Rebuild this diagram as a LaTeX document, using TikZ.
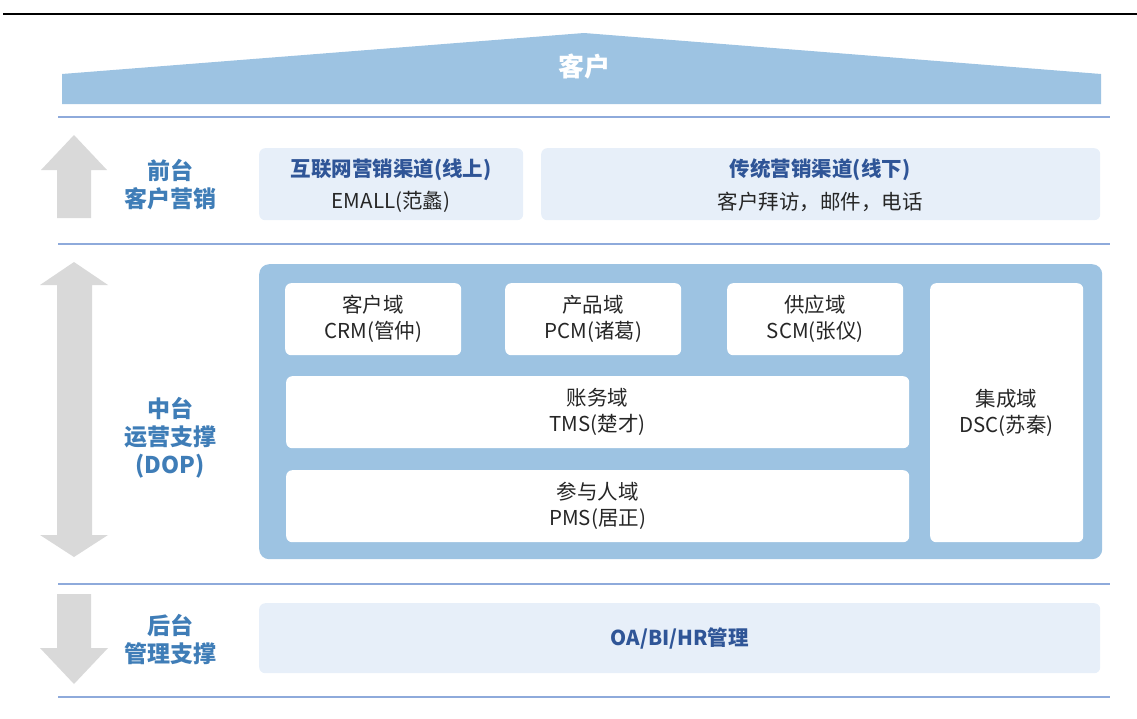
\documentclass[tikz,border=0pt]{standalone}
\usepackage{fontspec}
\setmainfont{Noto Sans CJK SC}
\definecolor{roofblue}{HTML}{9DC3E2}
\definecolor{lineblue}{HTML}{8EAADB}
\definecolor{arrowgray}{HTML}{D9D9D9}
\definecolor{labelblue}{HTML}{3F7DB7}
\definecolor{titleblue}{HTML}{2F5597}
\definecolor{panelfill}{HTML}{E7EFF9}
\definecolor{bodytext}{HTML}{262626}
\tikzset{
  sepline/.style={draw=lineblue, line width=1.5pt},
  grayarrow/.style={fill=arrowgray, draw=none},
  panel/.style={fill=panelfill, draw=none, rounded corners=6pt, inner sep=0pt, anchor=north west},
  whitebox/.style={fill=white, draw=none, rounded corners=6pt, inner sep=0pt, anchor=north west},
  bodyfont/.style={font=\fontsize{20.5}{26}\selectfont, text=bodytext, align=center},
  titlefont/.style={font=\fontsize{20.5}{26}\selectfont\bfseries, text=titleblue, align=center},
  sidelabel/.style={font=\fontsize{23}{28}\selectfont\bfseries, text=labelblue, align=center},
}
\begin{document}
\begin{tikzpicture}[x=1pt, y=-1pt]
\useasboundingbox (0,0) rectangle (1137,718);
% top black rule
\draw[line width=2.5pt, black] (3,14) -- (1137,14);
% roof
\fill[roofblue] (62,104) -- (62,74) -- (584,33) -- (1101,74) -- (1101,104) -- cycle;
\node[font=\fontsize{26}{30}\selectfont\bfseries, text=white] (kehu) at (584,67) {客户};
% separator lines
\draw[sepline] (58,117) -- (1110,117);
\draw[sepline] (58,244) -- (1110,244);
\draw[sepline] (58,584) -- (1110,584);
\draw[sepline] (58,697) -- (1110,697);
% gray arrows
\fill[grayarrow] (74,135) -- (107,170) -- (91,170) -- (91,218) -- (57,218) -- (57,170) -- (41,170) -- cycle;
\fill[grayarrow] (74,262) -- (108,285) -- (92,285) -- (92,535) -- (108,535) -- (74,557) -- (40,535) -- (57,535) -- (57,285) -- (40,285) -- cycle;
\fill[grayarrow] (57,594) -- (91,594) -- (91,648) -- (108,648) -- (74,684) -- (40,648) -- (57,648) -- cycle;
% side labels
\node[sidelabel] (front) at (170,185) {前台\\客户营销};
\node[sidelabel] (middle) at (170,438) {中台\\运营支撑\\(DOP)};
\node[sidelabel] (back) at (170,640) {后台\\管理支撑};
% front panels
\node[panel, minimum width=264pt, minimum height=72pt] (online) at (259,148) {};
\node[titlefont] (onlinet) at (391,170) {互联网营销渠道(线上)};
\node[bodyfont] (onlineb) at (391,202) {EMALL(范蠡)};
\node[panel, minimum width=559pt, minimum height=72pt] (offline) at (541,148) {};
\node[titlefont] (offlinet) at (820,170) {传统营销渠道(线下)};
\node[bodyfont] (offlineb) at (820,202) {客户拜访，邮件，电话};
% middle platform
\node[fill=roofblue, draw=none, rounded corners=10pt, inner sep=0pt, anchor=north west, minimum width=843pt, minimum height=295pt] (platform) at (259,264) {};
\node[whitebox, minimum width=176pt, minimum height=72pt] (crm) at (285,283) {};
\node[bodyfont] at (crm.center) {客户域\\CRM(管仲)};
\node[whitebox, minimum width=176pt, minimum height=72pt] (pcm) at (505,283) {};
\node[bodyfont] at (pcm.center) {产品域\\PCM(诸葛)};
\node[whitebox, minimum width=176pt, minimum height=72pt] (scm) at (727,283) {};
\node[bodyfont] at (scm.center) {供应域\\SCM(张仪)};
\node[whitebox, minimum width=623pt, minimum height=72pt] (tms) at (286,376) {};
\node[bodyfont] at (tms.center) {账务域\\TMS(楚才)};
\node[whitebox, minimum width=623pt, minimum height=72pt] (pms) at (286,470) {};
\node[bodyfont] at (pms.center) {参与人域\\PMS(居正)};
\node[whitebox, minimum width=153pt, minimum height=259pt] (dsc) at (930,283) {};
\node[bodyfont] at (dsc.center) {集成域\\DSC(苏秦)};
% back panel
\node[panel, minimum width=841pt, minimum height=70pt] (backpanel) at (259,603) {};
\node[titlefont] (backt) at (backpanel.center) {OA/BI/HR管理};
\end{tikzpicture}
\end{document}
